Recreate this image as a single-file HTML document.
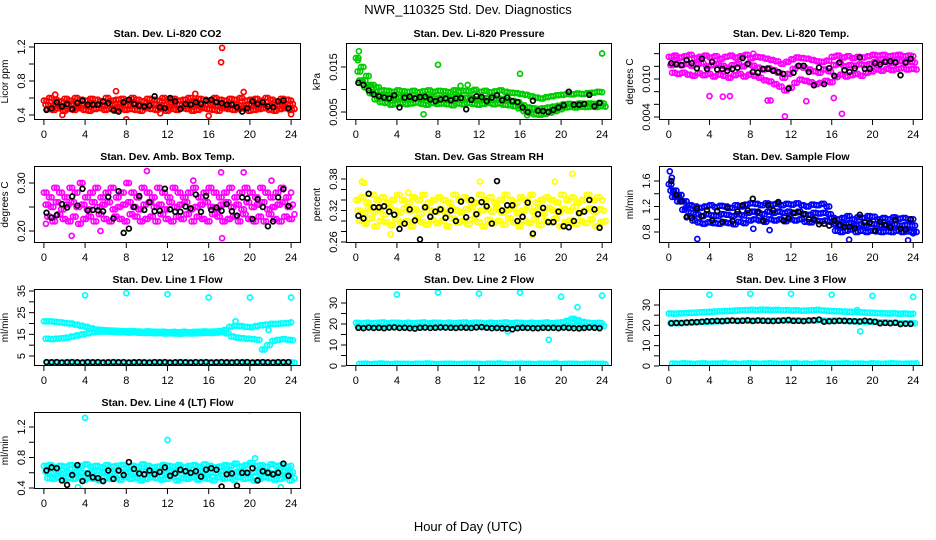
<!DOCTYPE html>
<html><head><meta charset="utf-8">
<style>
html,body{margin:0;padding:0;background:#fff;}
svg{display:block;font-family:"Liberation Sans",Arial,sans-serif;}
</style></head>
<body>
<svg id="chart" width="936" height="540" viewBox="0 0 936 540">
<text x="468" y="14" text-anchor="middle" font-size="13">NWR_110325  Std. Dev. Diagnostics</text>
<text x="468" y="531" text-anchor="middle" font-size="13">Hour of Day (UTC)</text>
</svg>
<script>
// ---- data (t = 0, 0.5, ... 24 for colored series; black at 0.25, 0.75, ...) ----
const co2Hi=[0.57,0.6,0.58,0.56,0.59,0.57,0.6,0.58,0.57,0.59,0.58,0.56,0.6,0.57,0.58,0.59,0.57,0.6,0.58,0.56,0.59,0.58,0.57,0.6,0.58,0.59,0.57,0.58,0.6,0.57,0.59,0.58,0.56,0.6,0.58,0.57,0.59,0.58,0.6,0.57,0.58,0.59,0.57,0.6,0.58,0.56,0.59,0.58,0.57];
const co2Mid=[0.52,0.51,0.53,0.5,0.52,0.53,0.51,0.52,0.5,0.53,0.52,0.51,0.52,0.53,0.5,0.52,0.51,0.53,0.52,0.5,0.52,0.53,0.51,0.52,0.5,0.53,0.52,0.51,0.53,0.52,0.5,0.52,0.53,0.51,0.52,0.5,0.53,0.52,0.51,0.52,0.53,0.5,0.52,0.51,0.53,0.52,0.5,0.52,0.53];
const co2Lo=[0.47,0.46,0.48,0.45,0.47,0.46,0.48,0.46,0.45,0.47,0.48,0.46,0.47,0.45,0.48,0.46,0.47,0.46,0.45,0.48,0.47,0.46,0.48,0.45,0.47,0.46,0.48,0.47,0.45,0.46,0.48,0.47,0.46,0.45,0.48,0.47,0.46,0.47,0.48,0.45,0.46,0.47,0.48,0.46,0.45,0.47,0.48,0.46,0.47];
const co2Black=[0.46,0.48,0.55,0.5,0.53,0.47,0.54,0.57,0.52,0.52,0.52,0.56,0.54,0.46,0.44,0.55,0.58,0.53,0.51,0.5,0.51,0.62,0.49,0.48,0.6,0.56,0.47,0.53,0.52,0.55,0.53,0.57,0.58,0.55,0.54,0.52,0.52,0.49,0.44,0.48,0.56,0.53,0.55,0.5,0.49,0.56,0.57,0.48];
const co2Out=[[17.2,1.02],[17.3,1.19],[8,0.35],[16,0.39],[7,0.68],[19.4,0.67],[24,0.41],[1.8,0.4],[1.1,0.64],[14.7,0.65],[11.3,0.42]];

const prHi=[0.017,0.015,0.013,0.011,0.0105,0.0098,0.0097,0.0095,0.0098,0.0096,0.0095,0.0097,0.0094,0.0096,0.0098,0.0095,0.0097,0.0096,0.0094,0.0098,0.0095,0.0097,0.0096,0.0099,0.0095,0.0097,0.0094,0.0096,0.0098,0.0095,0.0093,0.0092,0.009,0.0088,0.0085,0.0082,0.008,0.0083,0.0085,0.0087,0.0088,0.009,0.0089,0.0091,0.009,0.0092,0.0093,0.0095,0.0094];
const prMid=[0.014,0.012,0.011,0.0095,0.0088,0.0085,0.0082,0.008,0.0083,0.0081,0.008,0.0082,0.0079,0.0081,0.0083,0.008,0.0082,0.0081,0.0079,0.0083,0.008,0.0082,0.0081,0.0078,0.0079,0.0081,0.0078,0.008,0.0079,0.0077,0.0075,0.0072,0.0065,0.006,0.0058,0.0057,0.0058,0.006,0.0062,0.0064,0.0067,0.0068,0.0067,0.0069,0.0068,0.0069,0.0068,0.007,0.0069];
const prLo=[0.012,0.0105,0.0092,0.0078,0.0072,0.007,0.0066,0.0068,0.007,0.0067,0.0069,0.0071,0.0068,0.0066,0.007,0.0068,0.0069,0.0067,0.0065,0.0069,0.0067,0.007,0.0068,0.0066,0.0068,0.007,0.0067,0.0069,0.0066,0.0065,0.0063,0.0058,0.0052,0.0048,0.0045,0.0044,0.0046,0.0049,0.0052,0.0056,0.006,0.0061,0.006,0.0062,0.0061,0.0062,0.0061,0.0063,0.0062];
const prBlack=[0.0115,0.011,0.0098,0.0089,0.0085,0.0082,0.008,0.0087,0.006,0.0082,0.0084,0.008,0.0083,0.0084,0.0078,0.0074,0.0078,0.008,0.0076,0.008,0.0081,0.0056,0.0077,0.0085,0.0083,0.0074,0.0082,0.0087,0.0076,0.0082,0.0074,0.0072,0.006,0.005,0.0075,0.0053,0.0052,0.005,0.0055,0.006,0.0065,0.0095,0.0066,0.0066,0.0068,0.0088,0.0063,0.007];
const prOut=[[0.3,0.0185],[0.2,0.0165],[8,0.0155],[16,0.0135],[24,0.018],[10.2,0.0108],[10.9,0.011],[16.7,0.0043],[6.6,0.0045]];

const tmHi=[0.0135,0.0137,0.0134,0.0136,0.0138,0.0133,0.0135,0.0137,0.0134,0.0136,0.0132,0.0135,0.0137,0.0134,0.0136,0.0138,0.0133,0.0135,0.0134,0.0132,0.013,0.0128,0.0124,0.0127,0.0131,0.0134,0.0133,0.0132,0.013,0.0128,0.0127,0.0129,0.0135,0.0137,0.0134,0.0136,0.0133,0.0135,0.0134,0.0136,0.0138,0.0137,0.0138,0.0136,0.0137,0.0138,0.0136,0.0137,0.0136];
const tmMid=[0.0122,0.0125,0.0122,0.0124,0.0121,0.0123,0.0125,0.012,0.0122,0.0124,0.0121,0.0118,0.0122,0.0124,0.012,0.0123,0.0121,0.0118,0.0115,0.0117,0.0114,0.011,0.0102,0.0108,0.0116,0.012,0.0118,0.0115,0.0112,0.011,0.0115,0.0112,0.0122,0.0124,0.012,0.0122,0.0121,0.0123,0.0122,0.0124,0.0127,0.0126,0.0128,0.0125,0.0127,0.0128,0.0126,0.0127,0.0126];
const tmLo=[0.011,0.0108,0.011,0.0107,0.0105,0.0109,0.0106,0.0108,0.0104,0.0107,0.0105,0.0102,0.0106,0.0108,0.0104,0.0107,0.0105,0.0102,0.0098,0.0096,0.0092,0.0088,0.0082,0.0086,0.0094,0.0099,0.0097,0.0095,0.0092,0.0094,0.0097,0.0095,0.0103,0.0107,0.0104,0.0106,0.0108,0.0105,0.011,0.0112,0.0115,0.0113,0.0116,0.0114,0.0116,0.0117,0.0115,0.0116,0.0115];
const tmBlack=[0.0125,0.0123,0.0122,0.013,0.0125,0.0117,0.0132,0.0116,0.0127,0.0115,0.0116,0.0113,0.0116,0.0118,0.0133,0.0124,0.0111,0.011,0.0116,0.0116,0.0113,0.0111,0.0108,0.0085,0.011,0.0121,0.0121,0.0111,0.009,0.0118,0.0092,0.0117,0.0105,0.0126,0.0114,0.0111,0.0117,0.0134,0.0116,0.0116,0.0125,0.0123,0.0127,0.0128,0.0126,0.0106,0.0126,0.0132];
const tmOut=[[11.4,0.0041],[17,0.0045],[10,0.0066],[9.7,0.0066],[4,0.0073],[6,0.0073],[5.3,0.0072],[16.2,0.007],[0.5,0.0135],[13.5,0.0065],[8.3,0.014]];

const abHi=[0.28,0.27,0.29,0.28,0.27,0.29,0.28,0.3,0.27,0.28,0.29,0.27,0.28,0.29,0.27,0.28,0.3,0.28,0.27,0.29,0.28,0.27,0.29,0.28,0.27,0.29,0.28,0.27,0.28,0.29,0.27,0.28,0.29,0.28,0.27,0.28,0.29,0.27,0.28,0.29,0.28,0.27,0.29,0.28,0.27,0.28,0.29,0.27,0.28];
const abMid=[0.255,0.25,0.26,0.245,0.255,0.26,0.25,0.255,0.245,0.26,0.25,0.255,0.26,0.245,0.25,0.255,0.26,0.25,0.245,0.255,0.26,0.25,0.255,0.245,0.26,0.25,0.255,0.26,0.245,0.25,0.255,0.26,0.25,0.245,0.255,0.26,0.25,0.255,0.245,0.26,0.25,0.255,0.26,0.245,0.25,0.255,0.26,0.25,0.255];
const abLo=[0.23,0.22,0.235,0.225,0.22,0.23,0.215,0.225,0.23,0.22,0.235,0.225,0.22,0.23,0.225,0.22,0.235,0.23,0.22,0.225,0.23,0.22,0.235,0.225,0.22,0.23,0.225,0.235,0.22,0.23,0.225,0.22,0.235,0.23,0.22,0.225,0.23,0.22,0.235,0.225,0.22,0.23,0.22,0.235,0.225,0.22,0.23,0.225,0.235];
const abBlack=[0.238,0.228,0.233,0.256,0.249,0.272,0.253,0.288,0.243,0.244,0.243,0.241,0.271,0.226,0.283,0.196,0.205,0.25,0.273,0.244,0.26,0.241,0.242,0.288,0.245,0.24,0.24,0.251,0.247,0.276,0.24,0.273,0.244,0.249,0.242,0.256,0.241,0.232,0.27,0.268,0.225,0.266,0.25,0.21,0.22,0.27,0.287,0.252];
const abOut=[[1,0.34],[12,0.17],[17.2,0.322],[17.3,0.185],[19.4,0.322],[10,0.325],[2.7,0.19],[5.5,0.2],[14.5,0.305],[22.1,0.305],[0.2,0.215]];

const rhHi=[0.34,0.345,0.335,0.35,0.34,0.345,0.335,0.34,0.35,0.34,0.335,0.345,0.34,0.35,0.335,0.34,0.345,0.34,0.335,0.35,0.34,0.345,0.34,0.335,0.35,0.34,0.345,0.335,0.34,0.35,0.34,0.335,0.345,0.34,0.35,0.335,0.34,0.345,0.34,0.335,0.35,0.34,0.345,0.335,0.34,0.35,0.34,0.345,0.34];
const rhMid=[0.32,0.315,0.325,0.318,0.322,0.312,0.326,0.32,0.316,0.324,0.319,0.322,0.314,0.326,0.32,0.318,0.323,0.315,0.325,0.32,0.317,0.322,0.326,0.314,0.32,0.323,0.318,0.325,0.316,0.321,0.324,0.315,0.32,0.326,0.318,0.322,0.314,0.325,0.32,0.317,0.323,0.319,0.326,0.315,0.32,0.324,0.318,0.322,0.32];
const rhLo=[0.3,0.295,0.305,0.29,0.3,0.298,0.292,0.303,0.296,0.3,0.29,0.305,0.298,0.293,0.302,0.296,0.3,0.29,0.305,0.297,0.3,0.294,0.303,0.298,0.29,0.302,0.296,0.3,0.293,0.305,0.298,0.29,0.3,0.296,0.303,0.292,0.3,0.297,0.305,0.29,0.298,0.302,0.294,0.3,0.296,0.303,0.29,0.298,0.3];
const rhBlack=[0.31,0.305,0.352,0.326,0.326,0.328,0.318,0.312,0.285,0.295,0.322,0.301,0.265,0.326,0.308,0.318,0.322,0.306,0.32,0.3,0.337,0.307,0.34,0.313,0.336,0.328,0.295,0.376,0.32,0.33,0.33,0.3,0.308,0.335,0.276,0.313,0.325,0.298,0.298,0.318,0.29,0.288,0.3,0.315,0.318,0.34,0.322,0.287];
const rhOut=[[0.6,0.375],[0.8,0.373],[21.1,0.39],[3.4,0.275],[17.2,0.273],[12.1,0.375],[19.4,0.375],[5.1,0.354]];

const sfHi=[1.55,1.45,1.38,1.28,1.22,1.2,1.18,1.2,1.22,1.19,1.21,1.2,1.18,1.22,1.2,1.23,1.25,1.24,1.22,1.25,1.23,1.24,1.22,1.24,1.23,1.25,1.22,1.2,1.23,1.22,1.24,1.2,1.02,1.0,1.02,1.05,1.0,1.03,1.02,1.05,1.04,1.0,1.02,1.0,1.03,1.01,1.02,1.0,1.0];
const sfMid=[1.45,1.38,1.28,1.18,1.1,1.08,1.05,1.08,1.06,1.05,1.08,1.07,1.05,1.08,1.06,1.1,1.12,1.1,1.08,1.12,1.1,1.12,1.1,1.12,1.1,1.12,1.08,1.07,1.1,1.09,1.1,1.08,0.92,0.9,0.92,0.94,0.9,0.92,0.9,0.93,0.92,0.9,0.91,0.9,0.92,0.9,0.91,0.9,0.9];
const sfLo=[1.35,1.28,1.15,1.05,0.98,0.95,0.93,0.95,0.94,0.93,0.95,0.94,0.92,0.96,0.94,0.98,1.0,0.98,0.96,1.0,0.98,1.0,0.97,1.0,0.98,1.0,0.96,0.95,0.98,0.97,0.98,0.96,0.82,0.8,0.82,0.84,0.8,0.82,0.8,0.82,0.81,0.8,0.81,0.8,0.82,0.8,0.81,0.8,0.8];
const sfBlack=[1.6,1.38,1.28,1.03,1.02,1.17,1.05,1.14,0.98,1.13,0.96,1.18,0.97,1.12,1.22,1.14,1.32,1.12,0.98,1.22,1.14,1.27,0.98,1.02,1.1,1.11,1.08,1.0,1.0,0.92,0.93,0.9,0.98,0.91,0.88,0.88,0.86,1.07,0.95,0.95,0.82,0.96,0.91,0.87,0.99,0.85,0.84,1.0];
const sfOut=[[0.1,1.75],[0.3,1.65],[2.8,0.69],[8.3,0.85],[9.9,0.83],[17.7,0.68],[23.5,0.67],[24,0.78]];

const l1Up=[21,21,20.8,20.5,20.2,20,19.5,19,18.5,17.8,17.2,17,16.8,16.7,16.6,16.5,16.4,16.5,16.3,16.2,16.4,16.2,16.1,16.2,16,16.1,16,16.2,16,16.1,16.2,16.3,16.2,16.3,16.5,17,18.5,19,18.8,18.5,18.3,18.8,19.2,19.5,19.8,19.8,20,20.2,20.5];
const l1Lo=[13,12.8,13,13.2,13.5,14,14.5,15,15.5,16,16.2,16.3,16.2,16.1,16,16,15.8,15.9,15.7,15.6,15.7,15.5,15.6,15.4,15.5,15.4,15.3,15.5,15.4,15.5,15.6,15.7,15.6,15.8,16,15.5,14,13.5,13.2,13,12.8,12.5,8,10,12,12.5,12.8,12.5,12.3];
const l1Base=[2,2.1,1.9,2,2.2,2,1.9,2.1,2,2,1.9,2.1,2,2.2,2,1.9,2,2.1,2,1.9,2,2.1,2,2,1.9,2.1,2,2.2,2,1.9,2,2.1,2,2,1.9,2.1,2,2,2.2,1.9,2,2.1,2,1.9,2,2.1,2,2,1.9];
const l1Black=[2.2,2.1,2.2,2,2.1,2.2,2.1,2,2.2,2.1,2.2,2,2.1,2.2,2.1,2.2,2,2.1,2.2,2.1,2,2.2,2.1,2.2,2,2.1,2.2,2.1,2,2.2,2.1,2.2,2,2.1,2.2,2.1,2,2.2,2.1,2.2,2,2.1,2.2,2.1,2,2.2,2.1,2.2];
const l1Out=[[4,33],[8,34],[12,33.5],[16,32],[20,32],[24,32],[18.6,21],[21.8,17]];

const l2Up=[20.5,20.3,20.6,20.4,20.5,20.7,20.4,20.6,20.5,20.3,20.6,20.4,20.5,20.7,20.4,20.6,20.5,20.3,20.6,20.4,20.5,20.7,20.4,20.6,20.5,20.3,20.6,20.4,20.5,20.7,20.4,20.6,20.5,20.3,20.6,20.4,20.5,20.7,20.4,20.6,20.8,21.5,22.5,21.8,21,20.6,20.4,20.5,20.3];
const l2Mid=[19,18.7,19.1,18.8,19,18.9,19.2,18.8,19,18.7,19.1,18.9,19,18.8,19.2,18.9,19,18.7,19.1,18.8,19,18.9,19.2,18.8,19,18.7,19.1,18.9,19,18.8,19.2,18.9,19,18.7,19.1,18.8,19,18.9,19.2,18.8,19,18.7,19.1,18.9,19,18.8,19.2,18.9,19];
const l2Base=[1,1.1,0.9,1,1.2,1,0.9,1.1,1,1,0.9,1.1,1,1.2,1,0.9,1,1.1,1,0.9,1,1.1,1,1,0.9,1.1,1,1.2,1,0.9,1,1.1,1,1,0.9,1.1,1,1,1.2,0.9,1,1.1,1,0.9,1,1.1,1,1,0.9];
const l2Black=[18.2,18,18.3,18.1,18.2,18,18.3,18.4,18.1,18.2,18,17.8,18.2,18.3,18.1,18.2,18.4,18.3,18.2,18.1,18.3,18.2,18.1,18.4,18.5,18.2,18,18.1,17.9,17.8,17.5,18,18.2,18.1,18,18,18.2,18.1,18.2,18,18.3,18.1,18,17.9,18.1,18.3,18.2,18];
const l2Out=[[4,34],[8,35],[12,34.5],[16,35],[20,33],[24,33.5],[18.8,12.5],[21.6,28],[21.3,22.5],[14.8,16.5]];

const l3Up=[25.8,25.7,25.9,26,26.1,26.2,26.4,26.5,26.6,26.8,26.9,27,27.1,27.3,27.4,27.5,27.6,27.5,27.7,27.6,27.5,27.6,27.4,27.5,27.3,27.4,27.2,27.3,27.4,27.6,27.3,27.1,27,26.9,26.8,26.7,26.6,26.5,26.3,26.2,26.1,26,25.9,25.8,25.9,25.7,25.8,25.6,25.7];
const l3Mid=[21.2,21,21.3,21.2,21.4,21.5,21.6,21.8,21.9,22,22.1,22.2,22.3,22.2,22.4,22.3,22.2,22.4,22.3,22.2,22.4,22.3,22.5,22.3,22.4,22.3,22.2,22.4,22.3,22.5,22.3,22.2,22.4,22.3,22.2,22.1,22,21.9,21.8,21.8,21.6,21.5,21.4,21.3,21.2,21.1,21,21.1,21];
const l3Base=[1.2,1.1,1.3,1.2,1,1.2,1.3,1.1,1.2,1.2,1.3,1.1,1.2,1,1.2,1.3,1.2,1.1,1.2,1.3,1.2,1.1,1.2,1.2,1.3,1.1,1.2,1,1.2,1.3,1.2,1.1,1.2,1.2,1.3,1.1,1.2,1.2,1,1.3,1.2,1.1,1.2,1.3,1.2,1.1,1.2,1.2,1.3];
const l3Black=[21,21.2,21.1,21.4,21.5,21.6,21.8,22,22.1,22.2,22.1,22.3,22.4,22.2,22.3,22.5,22.2,22.4,22.3,22.2,22.1,22.3,22.4,22.6,22.2,22.3,22.1,22.4,22.5,22.8,21.8,22,22.1,22.3,22.2,22.1,22,21.9,22.3,22,21.8,21,21.2,21,21.3,20.6,20.8,20.7];
const l3Out=[[4,35],[8,35.5],[12,35.5],[16,35],[20,34.5],[24,34],[18.8,17],[18.5,27.5]];

const l4Hi=[0.69,0.7,0.67,0.69,0.68,0.7,0.67,0.69,0.71,0.68,0.69,0.67,0.7,0.68,0.69,0.7,0.67,0.69,0.68,0.71,0.69,0.67,0.68,0.7,0.69,0.68,0.7,0.67,0.69,0.7,0.68,0.71,0.69,0.67,0.68,0.7,0.69,0.72,0.68,0.7,0.73,0.69,0.7,0.68,0.71,0.69,0.7,0.68,0.69];
const l4Mid=[0.61,0.6,0.62,0.59,0.61,0.6,0.62,0.6,0.59,0.61,0.62,0.6,0.61,0.59,0.62,0.6,0.61,0.6,0.59,0.62,0.61,0.6,0.62,0.59,0.61,0.6,0.62,0.61,0.59,0.6,0.62,0.61,0.6,0.59,0.62,0.61,0.6,0.61,0.62,0.59,0.6,0.61,0.62,0.6,0.59,0.61,0.62,0.6,0.61];
const l4Lo=[0.53,0.52,0.54,0.5,0.53,0.52,0.54,0.51,0.53,0.52,0.5,0.54,0.52,0.53,0.51,0.54,0.52,0.53,0.5,0.52,0.54,0.53,0.51,0.52,0.54,0.5,0.53,0.52,0.54,0.51,0.53,0.52,0.5,0.54,0.52,0.53,0.51,0.54,0.52,0.53,0.5,0.52,0.54,0.53,0.51,0.52,0.54,0.5,0.53];
const l4Black=[0.63,0.67,0.66,0.5,0.44,0.57,0.7,0.49,0.59,0.54,0.53,0.49,0.63,0.52,0.63,0.57,0.74,0.65,0.59,0.58,0.63,0.58,0.61,0.67,0.56,0.59,0.64,0.62,0.6,0.62,0.55,0.64,0.66,0.64,0.42,0.58,0.59,0.43,0.6,0.6,0.66,0.5,0.62,0.6,0.58,0.6,0.72,0.56];
const l4Out=[[4,1.32],[12,1.03],[20,1.42],[3.3,0.41],[23,0.41],[20.5,0.79]];

// ---- drawing ----
const NS='http://www.w3.org/2000/svg';
const svg=document.getElementById('chart');
const cols=[[34,301],[346,612],[659,923]];
const rows=[43,166,289,412];
const H=77;
const xTicks=[0,4,8,12,16,20,24];
function mk(tag,attrs,parent){const e=document.createElementNS(NS,tag);for(const k in attrs)e.setAttribute(k,attrs[k]);(parent||svg).appendChild(e);return e;}

const panels=[
 {id:'co2',title:'Stan. Dev. Li-820 CO2',ylab:'Licor ppm',c:0,r:0,col:'#ff0000',ref:[0.4,1.2],ticks:[0.4,0.6,0.8,1.0,1.2],labels:[0.4,0.8,1.2],fmt:1,series:[co2Hi,co2Mid,co2Lo],black:co2Black,out:co2Out},
 {id:'pressure',title:'Stan. Dev. Li-820 Pressure',ylab:'kPa',c:1,r:0,col:'#00cc00',ref:[0.005,0.015],ticks:[0.005,0.010,0.015],labels:[0.005,0.015],fmt:3,series:[prHi,prMid,prLo],black:prBlack,out:prOut},
 {id:'temp',title:'Stan. Dev. Li-820 Temp.',ylab:'degrees C',c:2,r:0,col:'#ff00ff',ref:[0.004,0.010],ticks:[0.004,0.006,0.008,0.010,0.012,0.014],labels:[0.004,0.010],fmt:3,series:[tmHi,tmMid,tmLo],black:tmBlack,out:tmOut},
 {id:'amb-box',title:'Stan. Dev. Amb. Box Temp.',ylab:'degrees C',c:0,r:1,col:'#ff00ff',ref:[0.20,0.30],ticks:[0.20,0.25,0.30],labels:[0.20,0.30],fmt:2,series:[abHi,abMid,abLo],black:abBlack,out:abOut},
 {id:'rh',title:'Stan. Dev. Gas Stream RH',ylab:'percent',c:1,r:1,col:'#ffff00',ref:[0.26,0.38],ticks:[0.26,0.28,0.30,0.32,0.34,0.36,0.38],labels:[0.26,0.32,0.38],fmt:2,series:[rhHi,rhMid,rhLo],black:rhBlack,out:rhOut},
 {id:'sample-flow',title:'Stan. Dev. Sample Flow',ylab:'ml/min',c:2,r:1,col:'#0000ff',ref:[0.8,1.6],ticks:[0.8,1.0,1.2,1.4,1.6],labels:[0.8,1.2,1.6],fmt:1,series:[sfHi,sfMid,sfLo],black:sfBlack,out:sfOut},
 {id:'line1',title:'Stan. Dev. Line 1 Flow',ylab:'ml/min',c:0,r:2,col:'#00ffff',ref:[5,35],ticks:[5,10,15,20,25,30,35],labels:[5,15,25,35],fmt:0,series:[l1Up,l1Lo,l1Base],black:l1Black,out:l1Out},
 {id:'line2',title:'Stan. Dev. Line 2 Flow',ylab:'ml/min',c:1,r:2,col:'#00ffff',ref:[0,30],ticks:[0,5,10,15,20,25,30],labels:[0,10,20,30],fmt:0,series:[l2Up,l2Mid,l2Base],black:l2Black,out:l2Out},
 {id:'line3',title:'Stan. Dev. Line 3 Flow',ylab:'ml/min',c:2,r:2,col:'#00ffff',ref:[0,30],ticks:[0,5,10,15,20,25,30],labels:[0,10,20,30],fmt:0,series:[l3Up,l3Mid,l3Base],black:l3Black,out:l3Out},
 {id:'line4',title:'Stan. Dev. Line 4 (LT) Flow',ylab:'ml/min',c:0,r:3,col:'#00ffff',ref:[0.4,1.2],ticks:[0.4,0.6,0.8,1.0,1.2],labels:[0.4,0.8,1.2],fmt:1,series:[l4Hi,l4Mid,l4Lo],black:l4Black,out:l4Out}
];
// pixel positions of the two reference tick values (layout, not data)
const refPx={co2:[115,47],pressure:[112,67],temp:[117,79],'amb-box':[231,183],rh:[242,179],'sample-flow':[232,181],line1:[356,291],line2:[366,303],line3:[366,305],line4:[488,427]};

panels.forEach(p=>{
  const [L,R]=cols[p.c]; const T=rows[p.r]; const B=T+H;
  const g=mk('g',{});
  
  
  const xs=t=>L+(t+0.96)/25.92*(R-L);
  const [p1,p2]=refPx[p.id];
  const ys=v=>p1+(v-p.ref[0])/(p.ref[1]-p.ref[0])*(p2-p1);
  const clip='clip-'+p.id;
  const cp=mk('clipPath',{id:clip},g); mk('rect',{x:L,y:T,width:R-L,height:H},cp);
  const pts=mk('g',{'clip-path':'url(#'+clip+')'},g);
  
  
  const offs=[0,0.17,0.33];
  p.series.forEach((arr,si)=>{
    arr.forEach((v,i)=>{
      const c=mk('circle',{cx:xs(i*0.5+offs[si]).toFixed(1),cy:ys(v).toFixed(1),r:2.5,fill:'none',stroke:p.col,'stroke-width':1.7},pts);
      
      
      if(i<arr.length-1){
        const c2=mk('circle',{cx:xs(i*0.5+offs[si]+0.25).toFixed(1),cy:ys(v).toFixed(1),r:2.5,fill:'none',stroke:p.col,'stroke-width':1.7},pts);
        
        
      }
    });
  });
  p.out.forEach(o=>{
    const c=mk('circle',{cx:xs(o[0]).toFixed(1),cy:ys(o[1]).toFixed(1),r:2.5,fill:'none',stroke:p.col,'stroke-width':1.7},pts);
    
    
  });
  p.black.forEach((v,i)=>{
    const c=mk('circle',{cx:xs(i*0.5+0.25).toFixed(1),cy:ys(v).toFixed(1),r:2.4,fill:'none',stroke:'#000','stroke-width':1.7},pts);
    
    
  });
  const box=mk('rect',{x:L+0.5,y:T+0.5,width:R-L-1,height:H-1,fill:'none',stroke:'#000','stroke-width':1},g);
  
  
  xTicks.forEach(t=>{
    const x=xs(t);
    mk('line',{x1:x,x2:x,y1:B,y2:B+5,stroke:'#000'},g);
    const tx=mk('text',{x:x,y:B+18,'text-anchor':'middle','font-size':11},g);
    tx.textContent=t;
    
    
  });
  p.ticks.forEach(v=>{
    const y=ys(v);
    mk('line',{x1:L-5,x2:L,y1:y,y2:y,stroke:'#000'},g);
  });
  p.labels.forEach(v=>{
    const y=ys(v); const x=L-9;
    const tx=mk('text',{x:x,y:y,'text-anchor':'middle','font-size':11,transform:`rotate(-90 ${x} ${y})`},g);
    tx.textContent=v.toFixed(p.fmt);
    
    
  });
  const yl=L-26, ym=(T+B)/2;
  const yt=mk('text',{x:yl,y:ym,'text-anchor':'middle','font-size':10,transform:`rotate(-90 ${yl} ${ym})`},g);
  yt.textContent=p.ylab;
  
  
  const tt=mk('text',{x:(L+R)/2,y:T-6,'text-anchor':'middle','font-size':10.5,'font-weight':'bold'},g);
  tt.textContent=p.title;
  
  
});
</script>
</body></html>
